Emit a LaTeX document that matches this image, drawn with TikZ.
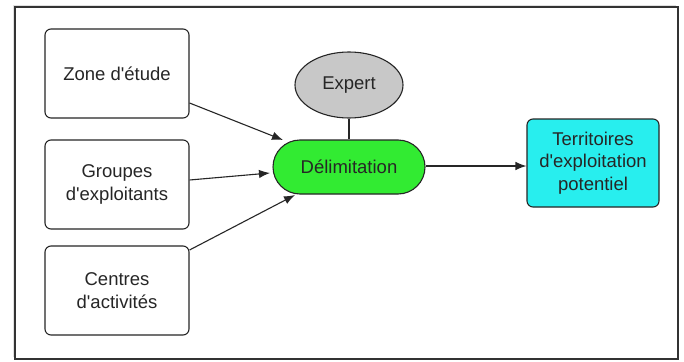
\documentclass[tikz,border=0pt]{standalone}
\usepackage{fontspec}
\setmainfont{Liberation Sans}
\usetikzlibrary{shapes.geometric,arrows.meta}
\newcommand{\apos}{\textquotesingle}
\begin{document}
\begin{tikzpicture}[x=1pt,y=-1pt,
  every node/.style={font=\fontsize{18.5}{22.5}\selectfont, text=black!85, align=center, line width=1.1pt, draw=black!85},
  inbox/.style={rectangle, rounded corners=6pt, minimum width=144pt, minimum height=89pt, fill=white},
  flow/.style={-{Latex[length=11pt,width=8.5pt]}, line width=1.1pt, draw=black!85}]
  \useasboundingbox (0,0) rectangle (684,361);
  % frame with soft shadow
  \fill[black!12] (13,5) rectangle (676,357);
  \draw[line width=1.2pt, draw=black!80, fill=white] (15,7) rectangle (678,359);
  % inputs
  \node[inbox] (zone) at (117,73.5) {Zone d\apos étude};
  \node[inbox] (grp) at (117,184.5) {Groupes\\d\apos exploitants};
  \node[inbox] (ctr) at (117,290.5) {Centres\\d\apos activités};
  % process and expert
  \node[rectangle, rounded corners=27pt, minimum width=152pt, minimum height=54pt, fill={rgb,255:red,50;green,235;blue,50}] (del) at (349,167) {Délimitation};
  \node[ellipse, minimum width=108pt, minimum height=66pt, inner sep=0pt, fill={rgb,255:red,200;green,200;blue,200}] (exp) at (349,85) {Expert};
  % output
  \node[rectangle, rounded corners=6pt, minimum width=132pt, minimum height=88pt, fill={rgb,255:red,40;green,238;blue,238}] (terr) at (593,163) {Territoires\\d\apos exploitation\\potentiel};
  % connectors
  \draw[line width=1.1pt, draw=black!85] (exp) -- (del);
  \draw[flow] (zone.east |- 0,103) -- (283,140);
  \draw[flow] (grp.east |- 0,180) -- (270,173);
  \draw[flow] (ctr.east |- 0,250) -- (295,195);
  \draw[flow] (del.east |- 0,166) -- (terr.west |- 0,166);
\end{tikzpicture}
\end{document}
